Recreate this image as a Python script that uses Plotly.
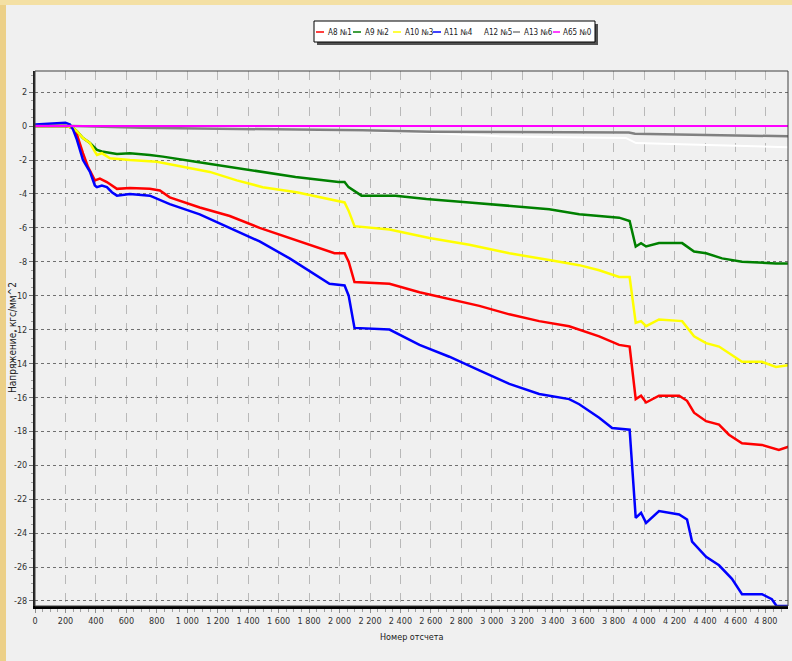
import plotly.graph_objects as go

# ---------------- data ----------------
series_names = ["A8 №1", "A9 №2", "A10 №3", "A11 №4", "A12 №5", "A13 №6", "A65 №0"]
series_colors = ["#ff0000", "#008000", "#ffff00", "#0000ff", "#ffffff", "#808080", "#ff00ff"]

a8_x = [0, 200, 250, 275, 315, 348, 393, 426, 472, 538, 623, 754, 820, 885, 1082, 1279, 1475,
        1672, 1869, 1967, 2033, 2060, 2098, 2328, 2525, 2721, 2918, 3115, 3311, 3508, 3574,
        3705, 3836, 3905, 3945, 3980, 4013, 4098, 4230, 4282, 4328, 4407, 4492, 4557, 4643,
        4774, 4885, 4950]
a8_y = [0, 0, -0.1, -0.5, -1.6, -2.4, -3.2, -3.1, -3.3, -3.7, -3.65, -3.7, -3.8, -4.2, -4.8,
        -5.3, -6.0, -6.6, -7.2, -7.5, -7.5, -8.0, -9.2, -9.3, -9.8, -10.2, -10.6, -11.1, -11.5,
        -11.8, -12.0, -12.4, -12.9, -13.0, -16.1, -15.9, -16.3, -15.9, -15.9, -16.2, -16.9,
        -17.4, -17.6, -18.2, -18.7, -18.8, -19.1, -18.9]

a9_x = [0, 200, 250, 275, 315, 361, 407, 439, 538, 623, 754, 840, 1056, 1272, 1489, 1711, 1993,
        2033, 2059, 2144, 2367, 2570, 2852, 3115, 3377, 3574, 3836, 3905, 3945, 3980, 4013,
        4098, 4250, 4328, 4407, 4512, 4643, 4866, 4950]
a9_y = [0, 0, -0.1, -0.3, -0.7, -1.0, -1.4, -1.5, -1.65, -1.6, -1.7, -1.8, -2.1, -2.4, -2.7,
        -3.0, -3.3, -3.3, -3.6, -4.1, -4.1, -4.3, -4.5, -4.7, -4.9, -5.2, -5.4, -5.6, -7.1,
        -6.9, -7.1, -6.9, -6.9, -7.4, -7.5, -7.8, -8.0, -8.1, -8.1]

a10_x = [0, 200, 250, 275, 315, 361, 393, 407, 439, 492, 623, 800, 970, 1148, 1325, 1495, 1718,
         1934, 2033, 2060, 2098, 2328, 2590, 2852, 3115, 3377, 3574, 3705, 3836, 3905, 3945,
         3980, 4013, 4098, 4250, 4328, 4407, 4492, 4577, 4643, 4774, 4866, 4950]
a10_y = [0, 0, -0.1, -0.3, -0.7, -1.0, -1.5, -1.7, -1.6, -1.9, -2.0, -2.1, -2.4, -2.7, -3.2,
         -3.6, -3.9, -4.3, -4.5, -5.0, -5.9, -6.1, -6.6, -7.0, -7.5, -7.9, -8.2, -8.5, -8.9,
         -8.9, -11.6, -11.5, -11.8, -11.4, -11.5, -12.4, -12.8, -13.0, -13.5, -13.9, -13.9,
         -14.2, -14.1]

a11_x = [0, 100, 200, 230, 250, 275, 315, 361, 393, 407, 439, 472, 505, 538, 623, 754, 885,
         1082, 1279, 1475, 1672, 1869, 1934, 2033, 2060, 2098, 2328, 2525, 2721, 2918, 3115,
         3311, 3508, 3574, 3705, 3790, 3905, 3945, 3980, 4013, 4098, 4230, 4282, 4315, 4407,
         4492, 4577, 4643, 4774, 4839, 4870, 4950]
a11_y = [0.1, 0.15, 0.2, 0.1, -0.2, -0.8, -2.0, -2.7, -3.5, -3.6, -3.5, -3.6, -3.9, -4.1,
         -4.0, -4.1, -4.6, -5.2, -6.0, -6.8, -7.8, -8.9, -9.3, -9.4, -10.0, -11.9, -12.0,
         -12.9, -13.6, -14.4, -15.2, -15.8, -16.1, -16.4, -17.2, -17.8, -17.9, -23.1, -22.8,
         -23.4, -22.7, -22.9, -23.2, -24.5, -25.4, -25.9, -26.7, -27.6, -27.6, -27.9, -28.3,
         -28.3]

a12_x = [0, 250, 1000, 2000, 2600, 3050, 3880, 3947, 4361, 4950]
a12_y = [0, 0, -0.1, -0.25, -0.4, -0.6, -0.7, -1.0, -1.1, -1.25]

a13_x = [0, 250, 700, 1300, 2150, 2600, 3050, 3900, 3940, 4400, 4950]
a13_y = [0, 0, -0.1, -0.15, -0.25, -0.33, -0.35, -0.38, -0.45, -0.5, -0.6]

a65_x = [0, 4950]
a65_y = [0, 0]

series_x = [a8_x, a9_x, a10_x, a11_x, a12_x, a13_x, a65_x]
series_y = [a8_y, a9_y, a10_y, a11_y, a12_y, a13_y, a65_y]

y_ticks = list(range(-28, 3, 2))
y_ticklabels = [str(v) for v in y_ticks]
x_title = "Номер отсчета"
y_title = "Напряжение, кгс/мм^2"

# ---------------- figure ----------------
W, H = 792, 661
L, R, T, B = 35, 788, 71, 606  # plot area in px

def px_x(px):
    return (px - L) / (R - L)

def px_y(py):
    return (B - py) / (B - T)

FONT = "DejaVu Sans Condensed, Liberation Sans Narrow, sans-serif"

fig = go.Figure()
widths = [2.5, 2.5, 2.5, 2.5, 2, 2.5, 2]
for name, col, xs, ys, w in zip(series_names, series_colors, series_x, series_y, widths):
    fig.add_trace(go.Scatter(x=xs, y=ys, mode="lines", name=name,
                             line=dict(color=col, width=w), showlegend=False))

shapes = []
# golden border strips
shapes.append(dict(type="rect", xref="paper", yref="paper", x0=px_x(0), x1=px_x(6),
                   y0=px_y(H), y1=px_y(0), fillcolor="#ecd088", line=dict(width=0), layer="below"))
shapes.append(dict(type="rect", xref="paper", yref="paper", x0=px_x(0), x1=px_x(W),
                   y0=px_y(5), y1=px_y(0), fillcolor="#f4e0a4", line=dict(width=0), layer="below"))
# plot frame
shapes.append(dict(type="rect", xref="paper", yref="paper", x0=0, x1=1, y0=0, y1=1,
                   line=dict(color="#404040", width=1), layer="above"))
# legend box with shadow
lx0, lx1, ly0, ly1 = 314, 595, 21, 42
shapes.append(dict(type="rect", xref="paper", yref="paper", x0=px_x(lx0 + 3), x1=px_x(lx1 + 3),
                   y0=px_y(ly1 + 3), y1=px_y(ly0 + 3), fillcolor="#505050", line=dict(width=0)))
shapes.append(dict(type="rect", xref="paper", yref="paper", x0=px_x(lx0), x1=px_x(lx1),
                   y0=px_y(ly1), y1=px_y(ly0), fillcolor="#ffffff", line=dict(color="#000000", width=1)))

legend_line_x = [(316, 324), (353, 361), (393, 401), (433, 441), (473, 481), (513, 520), (553, 560)]
legend_text_x = [326, 363, 403, 442, 482, 522, 561]
annotations = []
for (a, b), tx, name, col in zip(legend_line_x, legend_text_x, series_names, series_colors):
    shapes.append(dict(type="line", xref="paper", yref="paper", x0=px_x(a), x1=px_x(b),
                       y0=px_y(32), y1=px_y(32), line=dict(color=col, width=1.5)))
    annotations.append(dict(xref="paper", yref="paper", x=px_x(tx), y=px_y(32), text=name,
                            showarrow=False, xanchor="left", yanchor="middle",
                            font=dict(family=FONT, size=8, color="#202020")))

annotations.append(dict(xref="paper", yref="paper", x=0.5, y=px_y(637), text=x_title,
                        showarrow=False, xanchor="center", yanchor="middle",
                        font=dict(family=FONT, size=9, color="#202020")))
annotations.append(dict(xref="paper", yref="paper", x=px_x(12), y=px_y(338), text=y_title,
                        showarrow=False, xanchor="center", yanchor="middle", textangle=-90,
                        font=dict(family=FONT, size=10, color="#202020")))

fig.update_layout(
    width=W, height=H,
    margin=dict(l=L, r=W - R, t=T, b=H - B),
    paper_bgcolor="#f0f0f0", plot_bgcolor="#f0f0f0",
    separators=". ",
    font=dict(family=FONT, size=9, color="#303030"),
    shapes=shapes, annotations=annotations,
    showlegend=False,
)
fig.update_xaxes(
    range=[0, 4945], dtick=200, tick0=0, separatethousands=True,
    showgrid=True, gridcolor="#b8b8b8", griddash="dash", gridwidth=1.2,
    showline=True, linecolor="#000000", linewidth=3,
    ticks="outside", ticklen=4, tickcolor="#909090",
    minor=dict(dtick=50, ticks="outside", ticklen=3, tickcolor="#a0a0a0", showgrid=False),
    zeroline=False, tickfont=dict(family=FONT, size=9, color="#303030"),
)
fig.update_yaxes(
    range=[-28.3, 3.25], tickvals=y_ticks, ticktext=y_ticklabels,
    showgrid=True, gridcolor="#707070", griddash="dot", gridwidth=1,
    showline=True, linecolor="#202020", linewidth=2,
    ticks="outside", ticklen=4, tickcolor="#707070",
    minor=dict(dtick=0.5, ticks="outside", ticklen=2, tickcolor="#a0a0a0", showgrid=False),
    zeroline=False, tickfont=dict(family=FONT, size=9, color="#303030"),
)

fig.write_html("out.html", config={"displayModeBar": False},
               post_script="document.body.style.margin='0px';")
